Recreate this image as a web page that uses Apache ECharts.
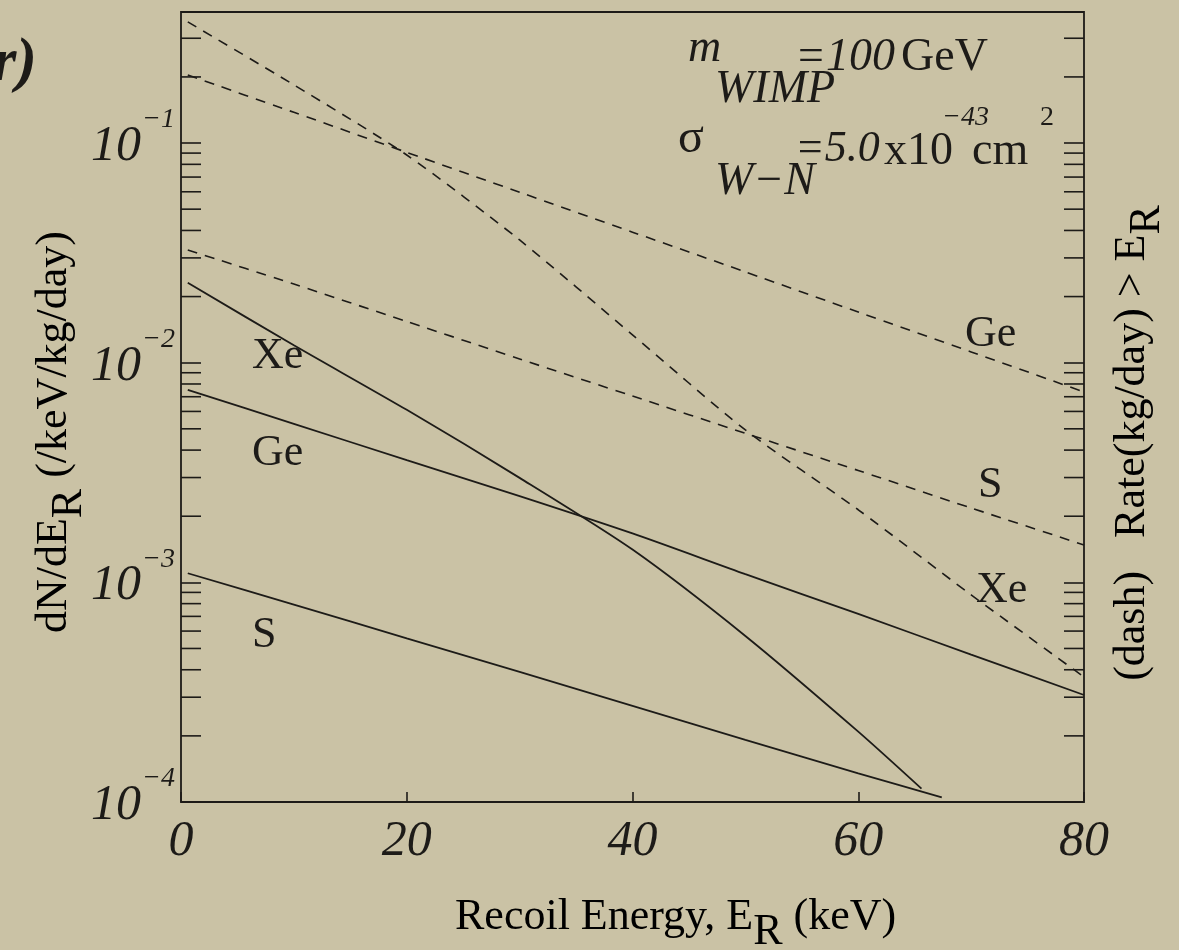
<!DOCTYPE html>
<html>
<head>
<meta charset="utf-8">
<title>WIMP recoil spectra</title>
<script src="https://cdn.jsdelivr.net/npm/echarts@6/dist/echarts.min.js"></script>
<style>
  html, body { margin: 0; padding: 0; background: #CAC2A5; }
  #chart { width: 1179px; height: 950px; }
</style>
</head>
<body>
<div id="chart"></div>
<script>
// Differential rate dN/dE_R (/keV/kg/day), solid lines
const xeEnergy = [0.6, 10, 20, 30, 40, 50, 60, 65.6];
const xeRate   = [0.0231, 0.0120, 0.0061, 0.00299, 0.00141, 0.00057, 0.000209, 0.000115];
const geEnergy = [0.6, 10, 20, 30, 40, 50, 60, 70, 80];
const geRate   = [0.00752, 0.00527, 0.00360, 0.00247, 0.00167, 0.00109, 0.000718, 0.000469, 0.000307];
const sEnergy  = [0.6, 10, 20, 30, 40, 50, 60, 67.4];
const sRate    = [0.00110, 0.000792, 0.000556, 0.000391, 0.000274, 0.000192, 0.000135, 0.000105];

// Integrated rate above E_R (kg/day), dashed lines
const thresholdEnergy = [0.6, 10, 20, 30, 40, 50, 60, 70, 80];
const xeIntegrated = [0.356, 0.184, 0.0882, 0.0362, 0.0134, 0.00494, 0.00214, 0.000877, 0.000371];
const geIntegrated = [0.204, 0.138, 0.0907, 0.0597, 0.0393, 0.0259, 0.0170, 0.0112, 0.00736];
const sIntegrated  = [0.0326, 0.0228, 0.0154, 0.0104, 0.00705, 0.00477, 0.00323, 0.00218, 0.00148];

// Axis ticks
const xTicks = [0, 20, 40, 60, 80];
const yDecadeExponents = [-4, -3, -2, -1];
const yMinorTicks = [];
yDecadeExponents.forEach(function (e) {
  for (let k = 2; k <= 9; k++) {
    const v = k * Math.pow(10, e);
    if (v < 0.395) yMinorTicks.push(v);
  }
});

const INK = '#1d1b18';
const SERIF = '"Liberation Serif", "DejaVu Serif", serif';

function pairs(xs, ys) { return xs.map(function (x, i) { return [x, ys[i]]; }); }

function solid(name, xs, ys) {
  return {
    name: name, type: 'line', yAxisIndex: 0, data: pairs(xs, ys),
    showSymbol: false, smooth: 0.25, silent: true,
    lineStyle: { color: INK, width: 1.8 }
  };
}
function dashed(name, xs, ys) {
  return {
    name: name, type: 'line', yAxisIndex: 1, data: pairs(xs, ys),
    showSymbol: false, smooth: 0.25, silent: true,
    lineStyle: { color: INK, width: 1.6, type: [10, 8] }
  };
}

function txt(text, x, y, size, italic, extra) {
  const style = Object.assign({
    text: text, x: x, y: y, fill: INK,
    fontFamily: SERIF, fontSize: size, fontStyle: italic ? 'italic' : 'normal',
    align: 'left', verticalAlign: 'middle'
  }, extra || {});
  return { type: 'text', silent: true, style: style };
}

const subRich = {
  a: { fontFamily: SERIF, fontSize: 44, lineHeight: 44, verticalAlign: 'top', color: INK },
  sub: { fontFamily: SERIF, fontSize: 44, lineHeight: 44, padding: [15, 0, 0, 0], verticalAlign: 'top', color: INK }
};

const chart = echarts.init(document.getElementById('chart'));
chart.setOption({
  animation: false,
  backgroundColor: '#CAC2A5',
  grid: {
    left: 181, right: 95, top: 12, bottom: 148,
    show: true, borderColor: INK, borderWidth: 1.8, backgroundColor: 'transparent'
  },
  xAxis: {
    type: 'value', min: xTicks[0], max: xTicks[xTicks.length - 1], interval: 20,
    axisLine: { show: false },
    axisTick: { inside: true, length: 10, lineStyle: { color: INK, width: 1.6 } },
    splitLine: { show: false },
    axisLabel: {
      fontFamily: SERIF, fontStyle: 'italic', fontSize: 50, color: INK, margin: 15
    }
  },
  yAxis: [
    {
      type: 'log', logBase: 10, min: 1e-4, max: 0.395, position: 'left',
      axisLine: { show: false },
      axisTick: { inside: true, length: 20, lineStyle: { color: INK, width: 1.6 } },
      splitLine: { show: false },
      axisLabel: { show: false }
    },
    {
      type: 'log', logBase: 10, min: 1e-4, max: 0.395, position: 'right',
      axisLine: { show: false },
      axisTick: { inside: true, length: 20, lineStyle: { color: INK, width: 1.6 } },
      splitLine: { show: false },
      axisLabel: { show: false }
    }
  ],
  series: [
    solid('Xe', xeEnergy, xeRate),
    solid('Ge', geEnergy, geRate),
    solid('S', sEnergy, sRate),
    dashed('Xe integrated', thresholdEnergy, xeIntegrated),
    dashed('Ge integrated', thresholdEnergy, geIntegrated),
    dashed('S integrated', thresholdEnergy, sIntegrated),
    {
      // minor log ticks (2..9 in every decade) on both vertical frame edges
      type: 'custom', silent: true, clip: false, yAxisIndex: 0,
      data: yMinorTicks.map(function (v) { return [0, v]; }),
      renderItem: function (params, api) {
        const y = api.coord([0, api.value(1)])[1];
        const cs = params.coordSys;
        const s = { stroke: INK, lineWidth: 1.6 };
        return {
          type: 'group',
          children: [
            { type: 'line', shape: { x1: cs.x, y1: y, x2: cs.x + 20, y2: y }, style: s },
            { type: 'line', shape: { x1: cs.x + cs.width - 20, y1: y, x2: cs.x + cs.width, y2: y }, style: s }
          ]
        };
      }
    },
    {
      // decade labels 10^n with a raised exponent, placed through the log scale
      type: 'custom', silent: true, clip: false, yAxisIndex: 0,
      data: yDecadeExponents.map(function (e) { return [0, Math.pow(10, e), e]; }),
      renderItem: function (params, api) {
        const y = api.coord([0, api.value(1)])[1];
        const x = params.coordSys.x;
        const e = api.value(2);
        return {
          type: 'group',
          children: [
            { type: 'text', style: { text: '10', x: x - 40, y: y + 4, align: 'right', verticalAlign: 'middle',
                fontFamily: SERIF, fontStyle: 'italic', fontSize: 50, fill: INK } },
            { type: 'text', style: { text: '\u2212' + (-e), x: x - 39, y: y - 23, align: 'left', verticalAlign: 'middle',
                fontFamily: SERIF, fontStyle: 'italic', fontSize: 28, fill: INK } }
          ]
        };
      }
    }
  ],
  graphic: [
    txt('r)', 37, 64, 62, true, { align: 'right', fontWeight: 'bold' }),
    // curve labels
    txt('Xe', 252, 356, 44, false),
    txt('Ge', 252, 453, 44, false),
    txt('S', 252, 635, 44, false),
    txt('Ge', 965, 334, 44, false),
    txt('S', 978, 485, 44, false),
    txt('Xe', 976, 590, 44, false),
    // parameters
    txt('m', 688, 48.5, 46, true),
    txt('WIMP', 715, 89.5, 46, true),
    txt('=100', 795, 57.5, 46, true),
    txt('GeV', 901, 57.5, 46, false),
    txt('\u03C3', 678, 139.5, 48, false),
    txt('W\u2212N', 715, 181.5, 46, true),
    txt('=5.0', 795, 149.5, 44, true),
    txt('x10', 884, 151.5, 46, false),
    txt('\u221243', 942, 117.5, 28, true),
    txt('cm', 972, 151.5, 46, false),
    txt('2', 1040, 117.5, 28, false),
    // axis titles
    {
      type: 'text', silent: true, x: 455, y: 895,
      style: { text: '{a|Recoil Energy, E}{sub|R}{a| (keV)}', rich: subRich, align: 'left', verticalAlign: 'top' }
    },
    {
      type: 'text', silent: true, x: 54, y: 432, rotation: Math.PI / 2,
      style: { text: '{a|dN/dE}{sub|R}{a| (/keV/kg/day)}', rich: subRich, align: 'center', verticalAlign: 'middle' }
    },
    {
      type: 'text', silent: true, x: 1132, y: 443, rotation: Math.PI / 2,
      style: { text: '{a|(dash)   Rate(kg/day) > E}{sub|R}', rich: subRich, align: 'center', verticalAlign: 'middle' }
    }
  ]
});
</script>
</body>
</html>
